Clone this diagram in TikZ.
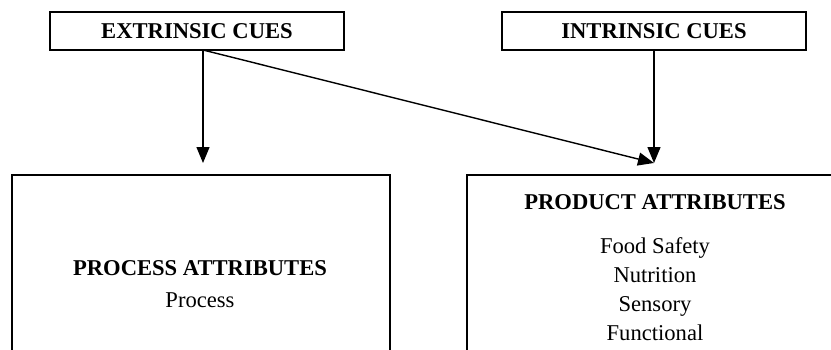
\documentclass[tikz,border=0pt]{standalone}
\usepackage{fontspec}
\setmainfont{Liberation Serif}
\usetikzlibrary{arrows.meta}
\tikzset{
  cuebox/.style={draw, line width=0.6pt, minimum width=147pt, minimum height=19pt,
    inner sep=0pt, font=\fontsize{11.3}{14.5}\selectfont\bfseries},
  cuearrow/.style={-{Triangle[length=8pt,width=6.5pt]}, line width=0.7pt},
  txt/.style={inner sep=0pt, align=center, font=\fontsize{11.3}{14.5}\selectfont}
}
\begin{document}
\begin{tikzpicture}[x=0.5pt,y=0.5pt]
    \useasboundingbox (0,0) rectangle (831,349);
    \clip (0,0) rectangle (831,349);
    %
    \node[cuebox] (extr) at (197,318) {EXTRINSIC CUES};
    \node[cuebox, minimum width=152pt] (intr) at (654,318) {INTRINSIC CUES};
    %
    \draw[line width=0.7pt] (12,-20) rectangle (390,174);
    \draw[line width=0.7pt] (467,-20) rectangle (860,174);
    %
    \coordinate (procin) at (203,186);
    \coordinate (prodin) at (654,186);
    \coordinate (extrout) at (203,299);
    \draw[cuearrow] (extrout) -- (procin);
    \draw[cuearrow] (extrout) -- (prodin);
    \draw[cuearrow] (intr.south -| prodin) -- (prodin);
    %
    \node[txt, font=\fontsize{11.3}{14.5}\selectfont\bfseries] (proct) at (200,81) {PROCESS ATTRIBUTES};
    \node[txt] (procl) at (200,49) {Process};
    \node[txt, font=\fontsize{11.3}{14.5}\selectfont\bfseries] (prodt) at (655,147) {PRODUCT ATTRIBUTES};
    \node[txt] (prodl) at (655,60) {Food Safety\\Nutrition\\Sensory\\Functional};
\end{tikzpicture}
\end{document}
